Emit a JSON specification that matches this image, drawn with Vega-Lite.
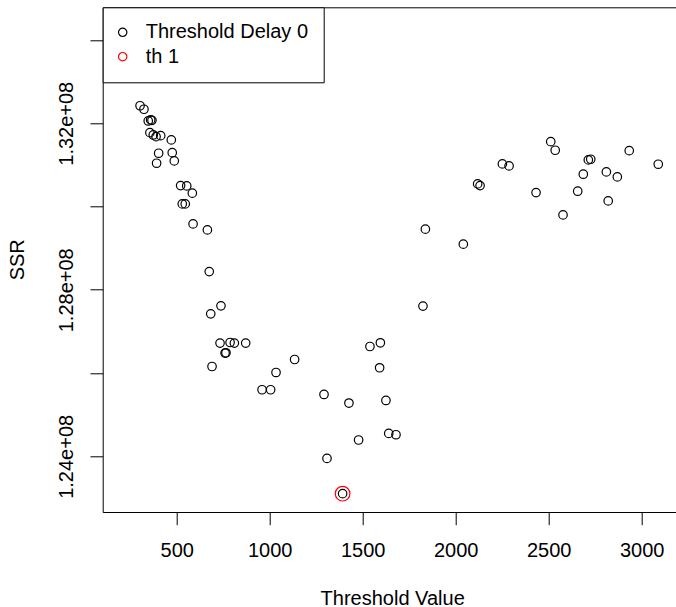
{
  "$schema": "https://vega.github.io/schema/vega-lite/v6.json",
  "autosize": {"type": "none"},
  "padding": {"left": 102.7, "top": 7.3, "right": 0, "bottom": 95},
  "width": 573.3,
  "height": 504.7,
  "background": "white",
  "data": {
    "values": [
      {"threshold": 303, "ssr": 132420000, "series": "Threshold Delay 0"},
      {"threshold": 324, "ssr": 132336000, "series": "Threshold Delay 0"},
      {"threshold": 347, "ssr": 132055000, "series": "Threshold Delay 0"},
      {"threshold": 360, "ssr": 132080000, "series": "Threshold Delay 0"},
      {"threshold": 367, "ssr": 132070000, "series": "Threshold Delay 0"},
      {"threshold": 356, "ssr": 131774000, "series": "Threshold Delay 0"},
      {"threshold": 374, "ssr": 131719000, "series": "Threshold Delay 0"},
      {"threshold": 389, "ssr": 131678000, "series": "Threshold Delay 0"},
      {"threshold": 414, "ssr": 131702000, "series": "Threshold Delay 0"},
      {"threshold": 471, "ssr": 131599000, "series": "Threshold Delay 0"},
      {"threshold": 403, "ssr": 131280000, "series": "Threshold Delay 0"},
      {"threshold": 476, "ssr": 131294000, "series": "Threshold Delay 0"},
      {"threshold": 392, "ssr": 131040000, "series": "Threshold Delay 0"},
      {"threshold": 487, "ssr": 131095000, "series": "Threshold Delay 0"},
      {"threshold": 521, "ssr": 130502000, "series": "Threshold Delay 0"},
      {"threshold": 554, "ssr": 130495000, "series": "Threshold Delay 0"},
      {"threshold": 584, "ssr": 130320000, "series": "Threshold Delay 0"},
      {"threshold": 530, "ssr": 130063000, "series": "Threshold Delay 0"},
      {"threshold": 546, "ssr": 130063000, "series": "Threshold Delay 0"},
      {"threshold": 588, "ssr": 129583000, "series": "Threshold Delay 0"},
      {"threshold": 665, "ssr": 129439000, "series": "Threshold Delay 0"},
      {"threshold": 675, "ssr": 128438000, "series": "Threshold Delay 0"},
      {"threshold": 683, "ssr": 127423000, "series": "Threshold Delay 0"},
      {"threshold": 738, "ssr": 127615000, "series": "Threshold Delay 0"},
      {"threshold": 733, "ssr": 126720000, "series": "Threshold Delay 0"},
      {"threshold": 787, "ssr": 126734000, "series": "Threshold Delay 0"},
      {"threshold": 810, "ssr": 126720000, "series": "Threshold Delay 0"},
      {"threshold": 871, "ssr": 126720000, "series": "Threshold Delay 0"},
      {"threshold": 760, "ssr": 126480000, "series": "Threshold Delay 0"},
      {"threshold": 765, "ssr": 126487000, "series": "Threshold Delay 0"},
      {"threshold": 690, "ssr": 126158000, "series": "Threshold Delay 0"},
      {"threshold": 1134, "ssr": 126326000, "series": "Threshold Delay 0"},
      {"threshold": 1034, "ssr": 126014000, "series": "Threshold Delay 0"},
      {"threshold": 959, "ssr": 125599000, "series": "Threshold Delay 0"},
      {"threshold": 1005, "ssr": 125599000, "series": "Threshold Delay 0"},
      {"threshold": 1292, "ssr": 125486000, "series": "Threshold Delay 0"},
      {"threshold": 1308, "ssr": 123950000, "series": "Threshold Delay 0"},
      {"threshold": 1392, "ssr": 123103000, "series": "Threshold Delay 0"},
      {"threshold": 1824, "ssr": 127608000, "series": "Threshold Delay 0"},
      {"threshold": 1539, "ssr": 126638000, "series": "Threshold Delay 0"},
      {"threshold": 1595, "ssr": 126727000, "series": "Threshold Delay 0"},
      {"threshold": 1591, "ssr": 126127000, "series": "Threshold Delay 0"},
      {"threshold": 1426, "ssr": 125280000, "series": "Threshold Delay 0"},
      {"threshold": 1625, "ssr": 125342000, "series": "Threshold Delay 0"},
      {"threshold": 1478, "ssr": 124392000, "series": "Threshold Delay 0"},
      {"threshold": 1640, "ssr": 124550000, "series": "Threshold Delay 0"},
      {"threshold": 1679, "ssr": 124519000, "series": "Threshold Delay 0"},
      {"threshold": 1837, "ssr": 129456000, "series": "Threshold Delay 0"},
      {"threshold": 2041, "ssr": 129096000, "series": "Threshold Delay 0"},
      {"threshold": 2118, "ssr": 130543000, "series": "Threshold Delay 0"},
      {"threshold": 2131, "ssr": 130502000, "series": "Threshold Delay 0"},
      {"threshold": 2251, "ssr": 131023000, "series": "Threshold Delay 0"},
      {"threshold": 2287, "ssr": 130975000, "series": "Threshold Delay 0"},
      {"threshold": 2432, "ssr": 130334000, "series": "Threshold Delay 0"},
      {"threshold": 2511, "ssr": 131558000, "series": "Threshold Delay 0"},
      {"threshold": 2535, "ssr": 131352000, "series": "Threshold Delay 0"},
      {"threshold": 2577, "ssr": 129799000, "series": "Threshold Delay 0"},
      {"threshold": 2656, "ssr": 130368000, "series": "Threshold Delay 0"},
      {"threshold": 2686, "ssr": 130776000, "series": "Threshold Delay 0"},
      {"threshold": 2713, "ssr": 131119000, "series": "Threshold Delay 0"},
      {"threshold": 2726, "ssr": 131136000, "series": "Threshold Delay 0"},
      {"threshold": 2810, "ssr": 130831000, "series": "Threshold Delay 0"},
      {"threshold": 2820, "ssr": 130135000, "series": "Threshold Delay 0"},
      {"threshold": 2869, "ssr": 130711000, "series": "Threshold Delay 0"},
      {"threshold": 2933, "ssr": 131342000, "series": "Threshold Delay 0"},
      {"threshold": 3089, "ssr": 131016000, "series": "Threshold Delay 0"},
      {"threshold": 1392, "ssr": 123103000, "series": "th 1"}
    ]
  },
  "layer": [
    {
      "mark": {"type": "point", "filled": false, "opacity": 1, "strokeWidth": 1.2},
      "encoding": {
        "x": {
          "field": "threshold", "type": "quantitative",
          "scale": {"domain": [102.2, 3184.4], "zero": false, "nice": false},
          "axis": {
            "orient": "bottom", "values": [500, 1000, 1500, 2000, 2500, 3000],
            "title": "Threshold Value", "tickSize": 12.7, "labelPadding": 31.5,
            "labelBaseline": "alphabetic", "labelAlign": "center", "format": "d",
            "titleBaseline": "alphabetic", "titleX": 289.5, "titleY": 92
          }
        },
        "y": {
          "field": "ssr", "type": "quantitative",
          "scale": {"domain": [122663000, 134785000], "zero": false, "nice": false},
          "axis": {
            "orient": "left",
            "values": [124000000, 126000000, 128000000, 130000000, 132000000, 134000000],
            "labelExpr": "(datum.value == 126000000 || datum.value == 130000000 || datum.value == 134000000) ? '' : replace(format(datum.value, '.2e'), 'e+8', 'e+08')",
            "title": "SSR", "tickSize": 12.7, "labelPadding": 18,
            "labelAngle": -90, "labelAlign": "center", "labelBaseline": "alphabetic",
            "titleAngle": -90, "titleBaseline": "alphabetic", "titleAlign": "center",
            "titleX": -79.4, "titleY": 252
          }
        },
        "color": {
          "field": "series", "type": "nominal",
          "scale": {"domain": ["Threshold Delay 0", "th 1"], "range": ["#000000", "#FF0000"]},
          "legend": {
            "title": null, "orient": "none", "legendX": 0, "legendY": 0,
            "strokeColor": "black", "fillColor": "white", "padding": 15,
            "labelFontSize": 20, "labelFont": "Liberation Sans", "labelColor": "black",
            "labelLimit": 400,
            "symbolType": "circle", "symbolSize": 70, "symbolStrokeWidth": 1.2,
            "symbolOffset": -5,
            "labelOffset": 13, "rowPadding": 4.4, "cornerRadius": 0
          }
        },
        "size": {
          "condition": {"test": "datum.series == 'th 1'", "value": 215},
          "value": 72
        }
      }
    },
    {
      "mark": {"type": "point", "opacity": 0},
      "encoding": {
        "x": {
          "field": "threshold", "type": "quantitative",
          "scale": {"domain": [102.2, 3184.4], "zero": false, "nice": false},
          "axis": {"orient": "top", "labels": false, "ticks": false, "title": null, "domain": true, "grid": false}
        }
      }
    }
  ],
  "resolve": {"axis": {"x": "independent"}},
  "config": {
    "view": {"stroke": null},
    "font": "Liberation Sans",
    "axis": {
      "labelFont": "Liberation Sans", "titleFont": "Liberation Sans",
      "labelFontSize": 20, "titleFontSize": 20, "titleFontWeight": "normal",
      "labelColor": "black", "titleColor": "black", "domainColor": "black",
      "tickColor": "black", "grid": false, "domainWidth": 1, "tickWidth": 1,
      "labelOverlap": false, "labelFlush": false
    }
  }
}
